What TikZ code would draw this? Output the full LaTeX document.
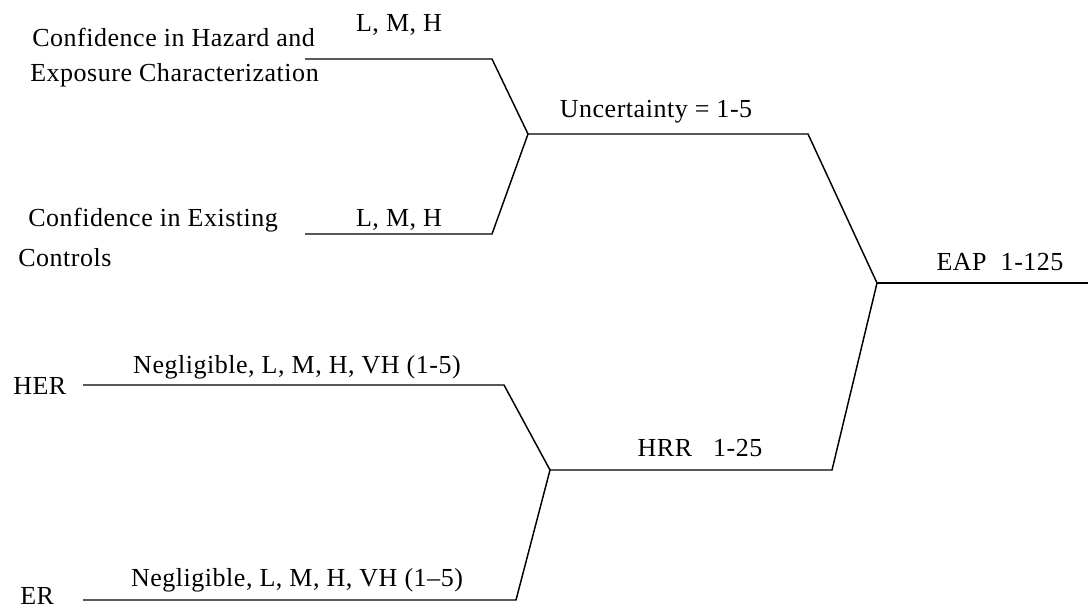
\documentclass[tikz,border=0pt]{standalone}
\usepackage{fontspec}
\setmainfont{Liberation Serif}
\begin{document}
\begin{tikzpicture}[x=0.75pt,y=-0.75pt,
  lbl/.style={inner sep=0pt,font=\fontsize{19.5}{23}\selectfont\addfontfeature{LetterSpace=2}},
  branch/.style={draw=black,line width=1.1pt,line join=miter}]
\useasboundingbox (0,0) rectangle (1088,608);
% junction coordinates
\coordinate (a1) at (305,59);  \coordinate (a2) at (492,59);
\coordinate (b1) at (305,234); \coordinate (b2) at (492,234);
\coordinate (u1) at (528,134); \coordinate (u2) at (808,134);
\coordinate (e1) at (877,283); \coordinate (e2) at (1088,283);
\coordinate (h1) at (83,385);  \coordinate (h2) at (504,385);
\coordinate (r1) at (83,600);  \coordinate (r2) at (516,600);
\coordinate (k1) at (550,470); \coordinate (k2) at (832,470);
% labels
\node[lbl,anchor=west] (c1a) at (32,37) {Confidence in Hazard and};
\node[lbl,anchor=west] (c1b) at (30,75) {Exposure Characterization};
\node[lbl] (lmh1) at (399,25) {L, M, H};
\node[lbl,anchor=west] (c2a) at (28,220) {Confidence in Existing};
\node[lbl,anchor=west] (c2b) at (18,258) {Controls};
\node[lbl] (lmh2) at (399,220) {L, M, H};
\node[lbl] (unc) at (656,112) {Uncertainty = 1-5};
\node[lbl] (eap) at (1000,262) {EAP\ \ 1-125};
\node[lbl,anchor=west] (her) at (13,386) {HER};
\node[lbl] (neg1) at (297,367) {Negligible, L, M, H, VH (1-5)};
\node[lbl] (hrr) at (700,448) {HRR\ \ \ 1-25};
\node[lbl,anchor=west] (er) at (20,596) {ER};
\node[lbl] (neg2) at (297,580) {Negligible, L, M, H, VH (1--5)};
% branches
\draw[branch] (a1) -- (a2) -- (u1) -- (b2) -- (b1);
\draw[branch] (u1) -- (u2) -- (e1) -- (k2) -- (k1);
\draw[branch] (e1) -- (e2);
\draw[branch] (h1) -- (h2) -- (k1) -- (r2) -- (r1);
\end{tikzpicture}
\end{document}
